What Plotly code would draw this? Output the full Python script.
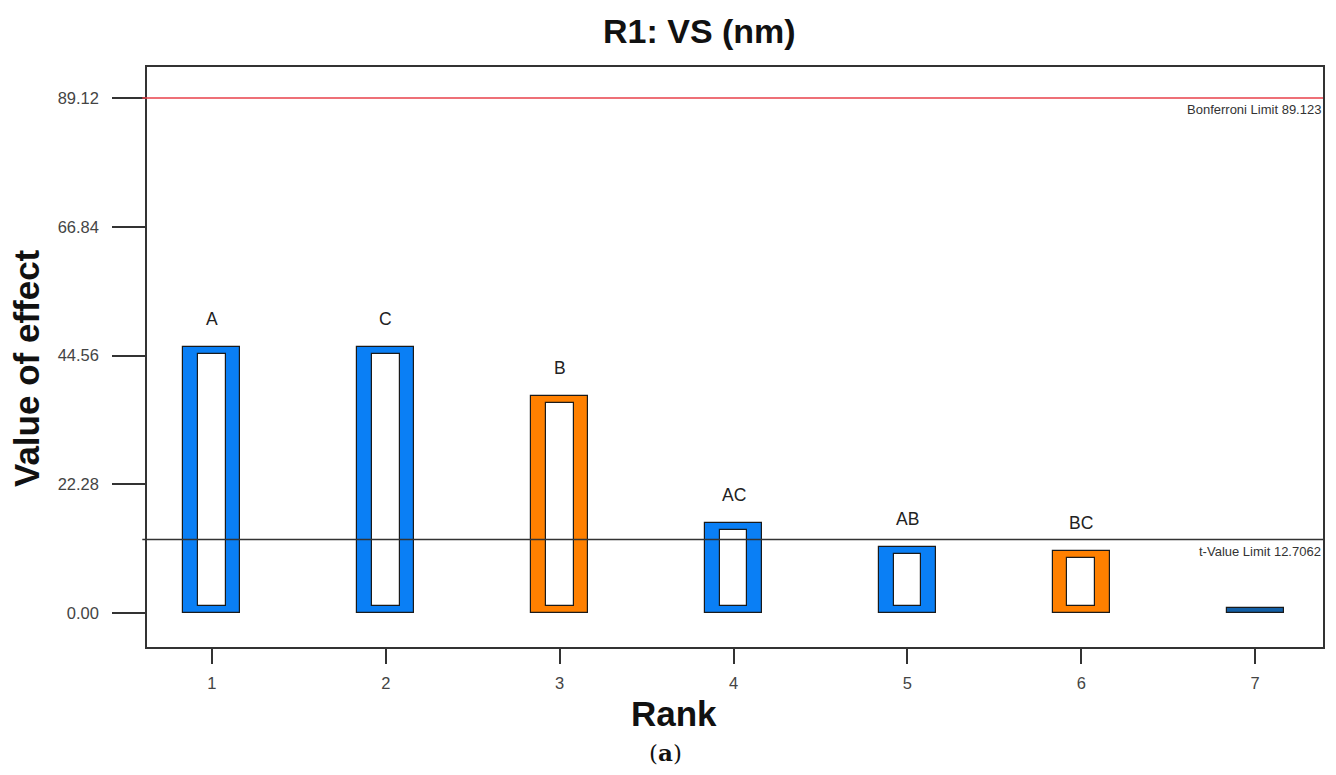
import plotly.graph_objects as go

# ---- data ----
ranks = [1, 2, 3, 4, 5, 6, 7]
effects = [46.0, 46.0, 37.6, 15.6, 11.4, 10.7, 0.9]
terms = ["A", "C", "B", "AC", "AB", "BC", ""]
bar_colors = ["#0A7FF5", "#0A7FF5", "#FF8000", "#0A7FF5", "#0A7FF5", "#FF8000", "#135FA6"]
y_ticks = [0.0, 22.28, 44.56, 66.84, 89.12]
x_ticks = [1, 2, 3, 4, 5, 6, 7]
bonferroni = 89.123
t_limit = 12.7062

# ---- styling ----
FONT = "Arial, Liberation Sans, sans-serif"
y_range = [-5.88, 94.48]
x_range = [0.627, 7.39]
plot_h_px = 580
inset = 7 * (y_range[1] - y_range[0]) / plot_h_px  # vertical inset of the hollow core (data units)
outer_w = 0.327
inner_w = 0.16

fig = go.Figure()

fig.add_trace(go.Bar(
    x=ranks, y=effects, width=[outer_w] * len(ranks),
    marker=dict(color=bar_colors, line=dict(color="#1a1a1a", width=1.2)),
    hoverinfo="x+y", showlegend=False,
))

inner_x = [r for r, v in zip(ranks, effects) if v > 3 * inset]
inner_y = [v - 2 * inset for v in effects if v > 3 * inset]
fig.add_trace(go.Bar(
    x=inner_x, y=inner_y, base=[inset] * len(inner_x), width=[inner_w] * len(inner_x),
    marker=dict(color="white", line=dict(color="#1a1a1a", width=1.2)),
    hoverinfo="skip", showlegend=False,
))

# reference lines
fig.add_shape(type="line", xref="x domain", x0=-0.004, x1=1, y0=bonferroni, y1=bonferroni,
              line=dict(color="#E8404A", width=1.5))
fig.add_shape(type="line", xref="x domain", x0=-0.004, x1=1, y0=t_limit, y1=t_limit,
              line=dict(color="#333333", width=1.5))
fig.add_annotation(xref="x domain", x=1, y=bonferroni, xanchor="right", yanchor="top",
                   text=f"Bonferroni Limit {bonferroni:g}", showarrow=False, yshift=-2,
                   font=dict(family=FONT, size=13, color="#333"))
fig.add_annotation(xref="x domain", x=1, y=t_limit, xanchor="right", yanchor="top",
                   text=f"t-Value Limit {t_limit:g}", showarrow=False, yshift=-2,
                   font=dict(family=FONT, size=13, color="#333"))

# bar labels
for r, v, t in zip(ranks, effects, terms):
    if t:
        fig.add_annotation(x=r, y=v, text=t, showarrow=False, yanchor="bottom", yshift=16,
                           font=dict(family=FONT, size=17.5, color="#222"))

# titles
fig.add_annotation(xref="paper", yref="paper", x=0.4694, y=1, yshift=36, text="<b>R1: VS (nm)</b>",
                   showarrow=False, yanchor="middle", font=dict(family=FONT, size=34, color="#111"))
fig.add_annotation(xref="paper", yref="paper", x=0, y=0.481, xshift=-121, text="<b>Value of effect</b>",
                   textangle=-90, showarrow=False, xanchor="center", yanchor="middle",
                   font=dict(family=FONT, size=35, color="#111"))
fig.add_annotation(xref="paper", yref="paper", x=0.448, y=0, yshift=-66, text="<b>Rank</b>",
                   showarrow=False, yanchor="middle", font=dict(family=FONT, size=35, color="#111"))
fig.add_annotation(xref="paper", yref="paper", x=0.4406, y=0, yshift=-105, text="(<b>a</b>)",
                   showarrow=False, yanchor="middle",
                   font=dict(family="DejaVu Serif, Liberation Serif, serif", size=23, color="#111"))

fig.update_layout(
    width=1320, height=759,
    margin=dict(l=139, r=3, t=59, b=120),
    paper_bgcolor="white", plot_bgcolor="white",
    barmode="overlay", bargap=0,
    showlegend=False,
    xaxis=dict(range=x_range, tickvals=x_ticks, ticktext=[str(t) for t in x_ticks],
               ticks="outside", ticklen=15, tickwidth=1.5, tickcolor="#333",
               showline=True, linecolor="#333", linewidth=1.5, mirror=True,
               showgrid=False, zeroline=False, ticklabelstandoff=5,
               tickfont=dict(family=FONT, size=16.5, color="#444")),
    yaxis=dict(range=y_range, tickvals=y_ticks, ticktext=[f"{t:.2f}" for t in y_ticks],
               ticks="outside", ticklen=33, tickwidth=1.5, tickcolor="#333",
               showline=True, linecolor="#333", linewidth=1.5, mirror=True,
               showgrid=False, zeroline=False, ticklabelstandoff=10,
               tickfont=dict(family=FONT, size=16.5, color="#444")),
)

fig.write_html("out.html")
